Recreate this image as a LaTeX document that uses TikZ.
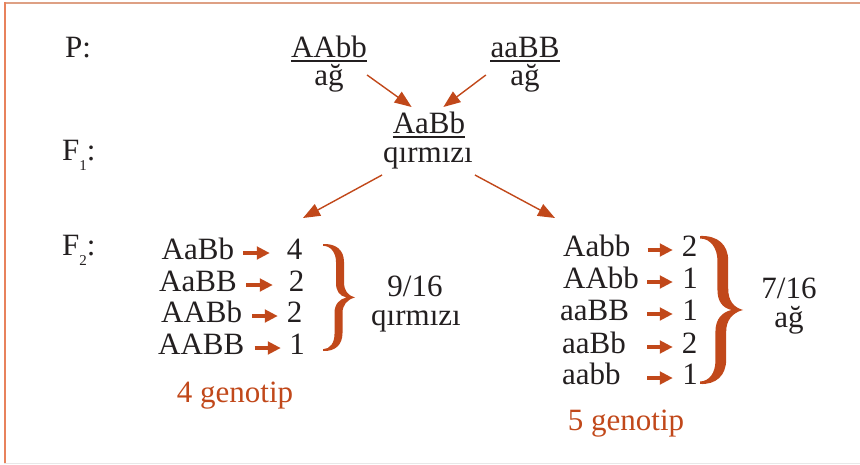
\documentclass[tikz,border=0pt]{standalone}
\usepackage{fontspec}
\setmainfont{Liberation Serif}
\usetikzlibrary{arrows.meta}
\definecolor{orng}{RGB}{193,72,26}
\definecolor{ink}{RGB}{35,31,32}
\definecolor{frametop}{RGB}{222,160,132}
\definecolor{frameleft}{RGB}{232,130,92}
\definecolor{framebot}{RGB}{232,232,232}
\newcommand\fsz{\fontsize{31}{34}\selectfont}
\newcommand\subfs{\fontsize{15}{15}\selectfont}
\newcommand\grow[8]{%
  \node[txt, anchor=base west] (g#1) at (#2,#3) {#4};
  \node[txt, anchor=base] (n#1) at (#5,#3) {#6};
  \draw[sarr, shorten <=#7pt, shorten >=#8pt] ([yshift=6pt]g#1.base east) -- ([yshift=6pt]n#1.base west);}
\newcommand\bracepath{%
  \fill[orng] (0,0) .. controls (13,-0.5) and (21,6) .. (21,18)
    -- (21,38) .. controls (21,47) and (25,51.5) .. (32,53.5)
    .. controls (24,55.5) and (19.5,61) .. (19.5,69)
    -- (19.5,89) .. controls (19.5,101) and (12,107.5) .. (0,107)
    -- (0,105.2) .. controls (7,105) and (11.5,99) .. (11.5,90)
    -- (11.5,69) .. controls (11.5,60) and (16.5,55) .. (23.5,53.5)
    .. controls (16.5,52) and (13,47) .. (13,39)
    -- (13,18) .. controls (13,9) and (8,1.8) .. (0,1.8) -- cycle;}
\begin{document}
\begin{tikzpicture}[x=1pt,y=-1pt,
  txt/.style={font=\fsz, text=ink, inner sep=0pt},
  otxt/.style={font=\fsz, text=orng, inner sep=0pt, anchor=base},
  barr/.style={draw=orng, line width=1.4pt, -{Triangle[length=17pt,width=13pt]}},
  sarr/.style={draw=orng, line width=3.4pt, -{Triangle[length=13pt,width=12.5pt]}},
  uline/.style={draw=ink, line width=1.3pt}]
\useasboundingbox (0,0) rectangle (860,464);
% frame
\draw[frametop, line width=2pt] (4,2.5) -- (860,2.5);
\draw[frameleft, line width=2pt] (4.5,2) -- (4.5,464);
\draw[framebot, line width=1pt] (4,463.5) -- (860,463.5);
% generation labels
\node[txt,anchor=base west] (P) at (65,57) {P:};
\node[txt,anchor=base west] (F1) at (62,160) {F\raisebox{-10pt}{\subfs 1}:};
\node[txt,anchor=base west] (F2) at (62,255) {F\raisebox{-10pt}{\subfs 2}:};
% parents
\node[txt,anchor=base] (p1) at (329,57) {AAbb};
\draw[uline] ([yshift=-4pt]p1.base west) -- ([yshift=-4pt]p1.base east);
\node[txt,anchor=base] (p1c) at (329,85) {ağ};
\node[txt,anchor=base] (p2) at (525,57) {aaBB};
\draw[uline] ([yshift=-4pt]p2.base west) -- ([yshift=-4pt]p2.base east);
\node[txt,anchor=base] (p2c) at (525,85) {ağ};
% F1
\node[txt,anchor=base] (f1) at (429,133) {AaBb};
\draw[uline] ([yshift=-4pt]f1.base west) -- ([yshift=-4pt]f1.base east);
\node[txt,anchor=base] (f1c) at (428,162) {qırmızı};
% arrows
\draw[barr] ([yshift=-18pt]p1.base east) -- ([xshift=19pt,yshift=26pt]f1.base west);
\draw[barr] ([xshift=-4.5pt,yshift=-18pt]p2.base west) -- ([xshift=-22pt,yshift=26pt]f1.base east);
\coordinate (t3) at (303,218);
\coordinate (t4) at (555,218);
\draw[barr] ([xshift=-1pt,yshift=-13pt]f1c.base west) -- (t3);
\draw[barr] ([xshift=2pt,yshift=-13pt]f1c.base east) -- (t4);
% left group
\grow{L1}{161.5}{259}{AaBb}{294.5}{4}{9}{16.75}
\grow{L2}{159}{291}{AaBB}{296.5}{2}{9.5}{15.75}
\grow{L3}{161}{322}{AABb}{294.5}{2}{10}{8.75}
\grow{L4}{158}{354}{AABB}{297}{1}{10}{8.25}
% right group
\grow{R1}{563}{256}{Aabb}{689.5}{2}{17}{8.75}
\grow{R2}{563}{288}{AAbb}{690}{1}{8.2}{9.25}
\grow{R3}{560}{320}{aaBB}{690}{1}{18}{9.25}
\grow{R4}{562}{353}{aaBb}{689.5}{2}{21.3}{8.75}
\grow{R5}{562}{384}{aabb}{690}{1}{26.5}{9.25}
% braces
\begin{scope}[shift={(323,244)}]
  \bracepath
\end{scope}
\begin{scope}[shift={(700,236)}, xscale=1.344, yscale=1.383]
  \bracepath
\end{scope}
% ratios
\node[txt,anchor=base] (r1) at (415,296) {9/16};
\node[txt,anchor=base] (r1c) at (416,325) {qırmızı};
\node[txt,anchor=base] (r2) at (789,298) {7/16};
\node[txt,anchor=base] (r2c) at (789,327) {ağ};
\node[otxt] (c1) at (235,402) {4 genotip};
\node[otxt] (c2) at (626,430) {5 genotip};
\end{tikzpicture}
\end{document}
